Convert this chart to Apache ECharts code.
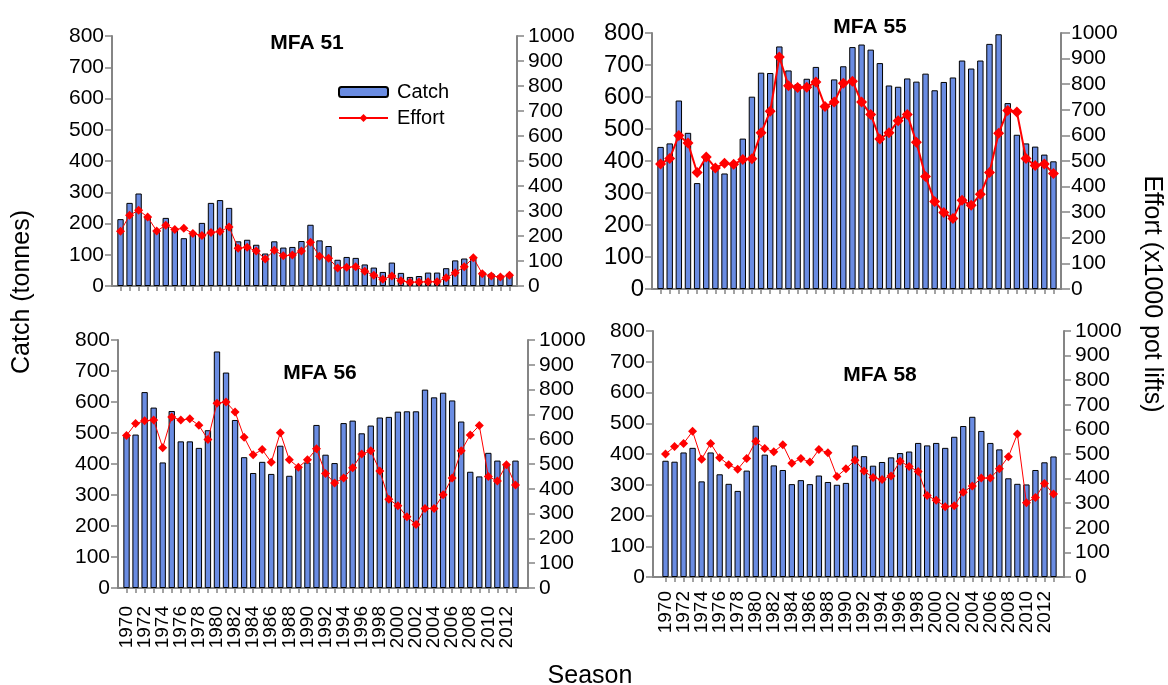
<!DOCTYPE html>
<html>
<head>
<meta charset="utf-8">
<script src="https://cdn.jsdelivr.net/npm/echarts@6/dist/echarts.min.js"></script>
<style>
html,body{margin:0;padding:0;background:#fff;}
#chart{width:1168px;height:685px;}
</style>
</head>
<body>
<div id="chart"></div>
<script>
const years = ['1970','1971','1972','1973','1974','1975','1976','1977','1978','1979','1980','1981','1982','1983','1984','1985','1986','1987','1988','1989','1990','1991','1992','1993','1994','1995','1996','1997','1998','1999','2000','2001','2002','2003','2004','2005','2006','2007','2008','2009','2010','2011','2012','2013'];
const catchTicks = [0,100,200,300,400,500,600,700,800];
const effortTicks = [0,100,200,300,400,500,600,700,800,900,1000];

const catch51 = [214,266,296,224,180,218,178,153,165,202,266,275,250,143,148,132,104,143,123,125,144,196,146,128,84,93,90,69,59,45,75,42,29,32,43,43,57,82,88,92,45,40,35,40];
const effort51 = [219,283,303,276,220,243,226,231,210,202,214,218,236,151,155,140,108,143,121,124,140,175,119,111,72,75,77,59,43,27,40,21,15,16,17,17,33,53,77,113,49,40,36,43];

const catch55 = [444,455,589,488,331,408,385,361,390,470,601,676,675,758,683,640,657,694,570,655,696,756,764,748,706,636,632,658,648,673,621,647,661,714,689,714,766,796,581,482,455,445,420,399];
const effort55 = [488,510,600,570,455,516,473,491,487,506,509,610,694,906,794,787,788,809,713,730,804,812,730,682,586,610,657,682,573,439,342,299,275,347,327,370,455,608,697,691,510,482,488,451];

const catch56 = [490,495,632,582,405,571,473,473,452,509,763,695,542,422,371,407,368,459,362,390,405,526,430,403,532,540,499,524,550,552,569,570,570,640,615,630,605,537,375,360,436,411,400,411];
const effort56 = [615,663,674,677,566,690,677,682,656,599,745,750,710,608,537,558,507,626,517,487,517,561,462,423,444,485,540,553,472,358,332,287,256,321,321,376,444,553,617,655,450,431,497,415];

const catch58 = [378,375,405,420,311,405,334,303,280,346,492,398,363,348,302,315,302,330,309,300,306,428,393,362,374,389,403,408,436,428,436,420,456,491,521,475,436,415,321,303,301,348,373,392];
const effort58 = [500,530,543,592,479,543,485,456,438,482,552,522,509,538,462,482,467,518,505,409,440,475,431,404,396,411,471,449,429,331,312,286,290,345,370,402,402,440,489,581,302,323,380,337];

const titles = ['MFA 51','MFA 55','MFA 56','MFA 58'];
const catchData = [catch51, catch55, catch56, catch58];
const effortData = [effort51, effort55, effort56, effort58];

const layout = [
  {L:112, R:517, T:36,  B:286, bl:116, br:514, lw:1, ttlX:302, ttlY:38,  xlab:false, lm:17},
  {L:652, R:1061,T:33,  B:289, bl:656, br:1058, lw:2, ttlX:865, ttlY:22, xlab:false, lm:17},
  {L:118, R:528, T:340, B:588, bl:122, br:520, lw:1, ttlX:315, ttlY:368, xlab:true, lm:18},
  {L:653, R:1064,T:331, B:577, bl:661, br:1058, lw:1, ttlX:875, ttlY:370, xlab:true, lm:14}
];

const FONT = 'Liberation Sans, Arial, sans-serif';
const axisGray = '#858585';
const barColor = '#6a8ce2';

const grid = [], xAxis = [], yAxis = [], series = [], title = [];
layout.forEach((p, i) => {
  grid.push({left:p.bl, top:p.T, width:p.br - p.bl, height:p.B - p.T, containLabel:false});
  grid.push({left:p.L, top:p.T, width:p.R - p.L, height:p.B - p.T, containLabel:false});
  xAxis.push({
    type:'category', gridIndex:2*i, data:years,
    axisLine:{show:true, lineStyle:{color:axisGray, width:2}},
    axisTick:{show:true, alignWithLabel:true, interval:0, length:5, lineStyle:{color:axisGray, width:1.5}},
    axisLabel:{show:p.xlab, interval:0, hideOverlap:false,
               formatter:function(value, idx){ return idx % 2 === 0 ? value : ''; },
               rotate:90, margin:p.lm, color:'#000', fontSize:19, fontFamily:FONT},
    splitLine:{show:false}
  });
  xAxis.push({
    type:'category', gridIndex:2*i+1, data:[''],
    axisLine:{show:true, lineStyle:{color:axisGray, width:2}},
    axisTick:{show:false}, axisLabel:{show:false}, splitLine:{show:false}
  });
  yAxis.push({
    type:'value', gridIndex:2*i, position:'left', min:catchTicks[0], max:catchTicks[catchTicks.length-1], interval:catchTicks[1]-catchTicks[0],
    offset:p.bl - p.L,
    axisLine:{show:true, lineStyle:{color:axisGray, width:2}},
    axisTick:{show:true, length:7, lineStyle:{color:axisGray, width:1.5}},
    axisLabel:{show:true, margin:8, color:'#000', fontSize: i===1 ? 24 : 21, fontFamily:FONT, formatter:function(v){return String(v);}},
    splitLine:{show:false}
  });
  yAxis.push({
    type:'value', gridIndex:2*i, position:'right', min:effortTicks[0], max:effortTicks[effortTicks.length-1], interval:effortTicks[1]-effortTicks[0],
    offset:p.R - p.br,
    axisLine:{show:true, lineStyle:{color:axisGray, width:2}},
    axisTick:{show:true, length: i===1 ? 9 : 7, lineStyle:{color:axisGray, width:1.5}},
    axisLabel:{show:true, margin: i===1 ? 10 : 11, color:'#000', fontSize:21, fontFamily:FONT, formatter:function(v){return String(v);}},
    splitLine:{show:false}
  });
  yAxis.push({
    type:'value', gridIndex:2*i+1, show:false, min:0, max:1
  });
  series.push({
    name:'Catch', type:'bar', xAxisIndex:2*i, yAxisIndex:3*i, data:catchData[i],
    barCategoryGap:'30%',
    itemStyle:{color:barColor, borderColor:'#000', borderWidth:1},
    emphasis:{disabled:true}, silent:true, z:2
  });
  series.push({
    name:'Effort', type:'line', xAxisIndex:2*i, yAxisIndex:3*i+1, data:effortData[i],
    symbol:'diamond', symbolSize: i===1 ? 11 : 9, showSymbol:true, showAllSymbol:true,
    lineStyle:{color:'#ff0000', width:p.lw},
    itemStyle:{color:'#ff0000'},
    emphasis:{disabled:true}, silent:true, z:3, animation:false
  });
  title.push({
    text:titles[i], left:p.ttlX, top:p.ttlY, textAlign:'center', textVerticalAlign:'middle',
    textStyle:{fontSize:21, fontWeight:'bold', color:'#000', fontFamily:FONT}
  });
});

const option = {
  animation:false,
  backgroundColor:'#fff',
  title: title,
  grid: grid,
  xAxis: xAxis,
  yAxis: yAxis,
  series: series,
  legend: {
    show:true, orient:'vertical', left:333, top:77,
    data:[{name:'Catch'},{name:'Effort'}],
    itemWidth:49, itemHeight:10, itemGap:6,
    textStyle:{fontSize:20, color:'#000', fontFamily:FONT, padding:[0,0,0,4]},
    selectedMode:false
  },
  graphic: [
    {type:'text', x:22, y:292, rotation:Math.PI/2,
     style:{text:'Catch (tonnes)', fill:'#000', font:'25px ' + FONT, textAlign:'center', textVerticalAlign:'middle'}},
    {type:'text', x:1152, y:294, rotation:-Math.PI/2,
     style:{text:'Effort (x1000 pot lifts)', fill:'#000', font:'25px ' + FONT, textAlign:'center', textVerticalAlign:'middle'}},
    {type:'text', x:590, y:676,
     style:{text:'Season', fill:'#000', font:'25px ' + FONT, textAlign:'center', textVerticalAlign:'middle'}}
  ]
};

const chart = echarts.init(document.getElementById('chart'), null, {renderer:'canvas'});
chart.setOption(option);
</script>
</body>
</html>
